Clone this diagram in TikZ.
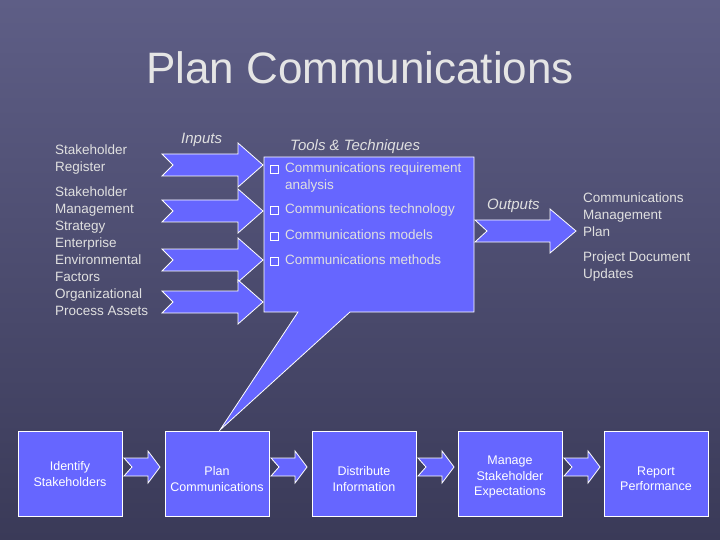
\documentclass[tikz,border=0pt]{standalone}
\usepackage{fontspec}
\setmainfont{Liberation Sans}
\begin{document}
\begin{tikzpicture}[x=1pt,y=-1pt,
 af/.style={fill=boxc,draw=white,line width=0.8pt},
 lbl/.style={text=white!88!black,font=\fontsize{13.5}{17}\selectfont,align=left,anchor=north west,inner sep=0pt},
 ital/.style={text=white!88!black,font=\fontsize{15}{18}\selectfont\itshape,anchor=north west,inner sep=0pt},
 bt/.style={text=white,font=\fontsize{12.5}{15.5}\selectfont,align=center},
 bx/.style={af,minimum width=104pt,minimum height=85pt,inner sep=2pt}]
\definecolor{boxc}{HTML}{6666FF}
\definecolor{bgtop}{HTML}{5E5E86}
\definecolor{bgbot}{HTML}{3A3A58}
\newcommand\narr[7]{\draw[af] (#1,#3-#5)--(#4,#3-#5)--(#4,#3-#6)--(#2,#3)--(#4,#3+#6)--(#4,#3+#5)--(#1,#3+#5)--(#1+#7,#3)--cycle;}
\shade[top color=bgtop,bottom color=bgbot] (0,0) rectangle (720,540);
\useasboundingbox (0,0) rectangle (720,540);
\node[text=white!90!black,font=\fontsize{44}{48}\selectfont] (title) at (360,68) {Plan Communications};
% input arrows
\narr{162}{263}{165}{238}{11}{22}{11}
\narr{162}{263}{211}{238}{11}{22}{11}
\narr{162}{263}{260}{238}{11}{22}{11}
\narr{162}{263}{302}{238}{11}{22}{11}
% output arrow
\narr{475}{576}{231}{550}{11}{22}{12}
% callout box
\draw[af] (264,157)--(474,157)--(474,312)--(350,312)--(220,430)--(298,312)--(264,312)--cycle;
\node[ital] (inp) at (181,133) {Inputs};
\node[ital] (tt) at (290,139) {Tools \& Techniques};
\node[ital] (outp) at (487,199) {Outputs};
\node[lbl] (l1) at (55,145) {Stakeholder\\Register};
\node[lbl] (l2) at (55,187) {Stakeholder\\Management\\Strategy\\Enterprise\\Environmental\\Factors\\Organizational\\Process Assets};
\node[lbl] (r1) at (583,193) {Communications\\Management\\Plan};
\node[lbl] (r2) at (583,252) {Project Document\\Updates};
\foreach \yy/\t [count=\i] in {163/{Communications requirement\\analysis},204/Communications technology,230/Communications models,255/Communications methods}{
  \draw[white,line width=0.6pt] (270,\yy+2) rectangle (278,\yy+10);
  \node[lbl] (b\i) at (285,\yy) {\t};
}
% bottom
\node[bx] (s1) at (70,474) {};
\node[bx] (s2) at (217,474) {};
\node[bx] (s3) at (364,474) {};
\node[bx] (s4) at (510,474) {};
\node[bx] (s5) at (656,474) {};
\node[bt] (t1) at (s1) {Identify\\Stakeholders};
\node[bt] (t2) at ([yshift=-5pt]s2) {Plan\\Communications};
\node[bt] (t3) at ([yshift=-5pt]s3) {Distribute\\Information};
\node[bt] (t4) at ([yshift=-3pt]s4) {Manage\\Stakeholder\\Expectations};
\node[bt] (t5) at ([yshift=-5pt]s5) {Report\\Performance};
\foreach \a in {124,271,418,564}{\narr{\a}{\a+36}{467}{\a+24}{9}{16}{8}}
\end{tikzpicture}
\end{document}
